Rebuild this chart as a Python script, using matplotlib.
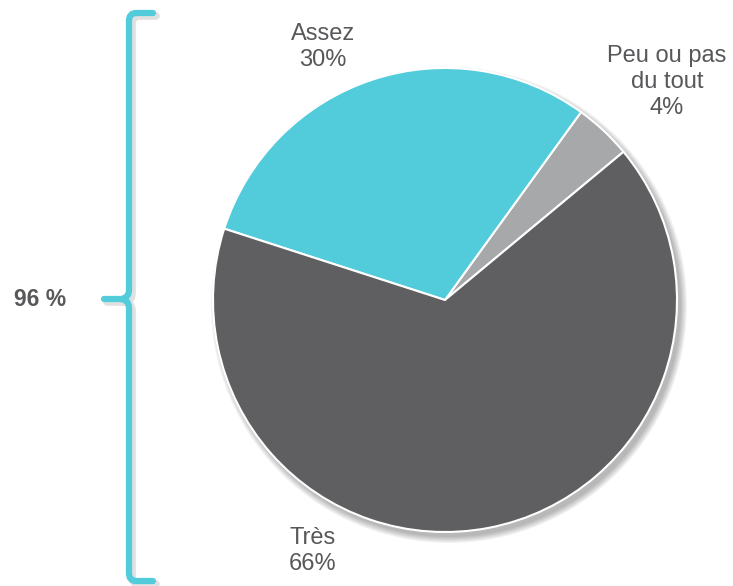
import numpy as np
import matplotlib.pyplot as plt
from matplotlib.patches import Circle
from matplotlib.path import Path
from matplotlib.patches import PathPatch

plt.rcParams['font.family'] = ['Liberation Sans', 'DejaVu Sans']

# data (counterclockwise from the right)
labels = ["Peu ou pas\ndu tout", "Assez", "Très"]
values = [4, 30, 66]
colors = ["#a7a8aa", "#52cbdb", "#5f5f62"]
total_label = "96 %"

W, H = 733, 586
fig = plt.figure(figsize=(W / 100, H / 100), dpi=100)
ax = fig.add_axes([0, 0, 1, 1])

cx, cy, r = 445, H - 300, 232

# soft shadow under the pie
for k in range(6):
    ax.add_patch(Circle((cx + 4, cy - 5), r + k * 1.2, color="black",
                        alpha=0.05, lw=0, zorder=0))

wedges, _ = ax.pie(values, colors=colors, startangle=39.7, counterclock=True,
                   center=(cx, cy), radius=r,
                   wedgeprops=dict(edgecolor="white", linewidth=1.5))
for w in wedges:
    w.set_zorder(2)

txt = dict(ha="center", va="center", fontsize=17, color="#58585b", linespacing=1.25)
ax.text(323, H - 47, "Assez\n30%", **txt)
ax.text(667, H - 82, "Peu ou pas\ndu tout\n4%", **txt)
ax.text(313, H - 551, "Très\n66%", **txt)
ax.text(40, H - 300, total_label, ha="center", va="center", fontsize=16.5,
        fontweight="bold", color="#58585b")

# bracket
def bracket(dx=0, dy=0):
    x0, top, mid, bot = 129 + dx, H - 13 + dy, H - 299 + dy, H - 581 + dy
    verts = [(153 + dx, top), (136 + dx, top), (x0, top), (x0, top - 8),
             (x0, mid + 9), (x0, mid + 1), (x0 - 8, mid), (104 + dx, mid),
             (x0 - 8, mid), (x0, mid - 1), (x0, mid - 9),
             (x0, bot + 8), (x0, bot), (136 + dx, bot), (153 + dx, bot)]
    codes = [Path.MOVETO, Path.LINETO, Path.CURVE3, Path.CURVE3,
             Path.LINETO, Path.CURVE3, Path.CURVE3, Path.LINETO,
             Path.MOVETO, Path.CURVE3, Path.CURVE3,
             Path.LINETO, Path.CURVE3, Path.CURVE3, Path.LINETO]
    return Path(verts, codes)

ax.add_patch(PathPatch(bracket(3, -3), fill=False, edgecolor="black", alpha=0.12,
                       lw=5.5, capstyle="round", zorder=1))
ax.add_patch(PathPatch(bracket(), fill=False, edgecolor="#52cbdb",
                       lw=4.5, capstyle="round", joinstyle="round", zorder=3))

ax.set_xlim(0, W)
ax.set_ylim(0, H)
ax.set_aspect("auto")
ax.axis("off")

fig.savefig("out.png", dpi=100, facecolor="white")
